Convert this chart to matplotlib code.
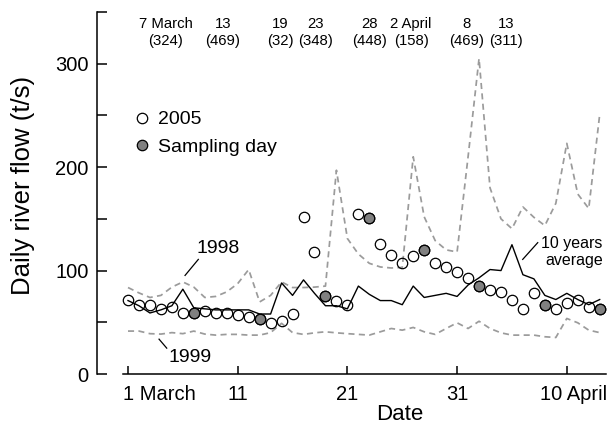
import matplotlib
matplotlib.use("Agg")
import matplotlib.pyplot as plt
from matplotlib.transforms import ScaledTranslation

plt.rcParams['font.family'] = ['Liberation Sans', 'DejaVu Sans']

# ---- data -------------------------------------------------------------
days = list(range(1, 45))  # 1 = 1 March ... 44 = 13 April

flow_2005 = [72, 67, 66.5, 63, 65, 59, 59, 61, 59, 59,
             57.5, 55, 53, 49.5, 51.5, 58, 152, 118, 75.5, 71,
             67, 155, 151, 126, 115, 107, 114, 120, 107, 103,
             98.5, 93, 85, 81, 79.5, 72, 62.5, 78, 67, 62.5,
             69, 72, 65, 62.5]

sampling_days = [7, 13, 19, 23, 28, 33, 39, 44]

avg_10y = [71, 66, 59, 62, 66, 82, 64, 63, 62, 62,
           62, 62, 58, 58, 88, 76, 91, 78, 66, 66,
           63, 85, 77, 71, 71, 67, 85, 74, 76, 78,
           75, 86, 93, 101, 100, 125, 96, 92, 76, 72,
           78, 72, 67, 72]

flow_1998 = [83.6, 78.4, 74, 76, 84, 89, 84, 74, 75, 79.4,
             87.4, 101, 69.7, 76, 89, 83.6, 83.6, 84, 85, 197,
             131, 116, 107, 103.5, 102.5, 103, 210, 152, 129, 120,
             118, 210, 305, 180, 150, 140.5, 161.5, 151.5, 143.5, 165,
             223, 174, 160, 251]

flow_1999 = [41.5, 41.5, 39, 38.6, 40, 39, 41.5, 38.6, 37.6, 38.3,
             38.3, 37.6, 37.6, 40, 49, 40, 38.3, 39.8, 40.8, 39.8,
             39, 38.3, 37.6, 40.8, 44, 42.4, 45, 40.8, 38.3, 44,
             49.5, 44, 51, 44, 39.8, 37.6, 37.6, 37.6, 36, 35.3,
             53.7, 49.5, 42.4, 40]

xtick_days = [1, 11, 21, 31, 41]
xtick_labels = ["1 March", "11", "21", "31", "10 April"]
yticks_major = [0, 100, 200, 300]
yticks_minor = [50, 150, 250, 350]

sample_dates = ["7 March", "13", "19", "23", "28", "2 April", "8", "13"]
sample_counts = [324, 469, 32, 348, 448, 158, 469, 311]

# ---- layout -----------------------------------------------------------
label_x = [4.46, 9.66, 14.86, 18.1, 23.06, 26.80, 31.90, 35.46]

fig = plt.figure(figsize=(6.1, 4.26), dpi=100)
ax = fig.add_axes([97 / 610, 1 - 374 / 426, 509 / 610, 362 / 426])

dash_col = '#9b9b9b'
ax.plot(days, flow_1998, color=dash_col, lw=1.25, ls=(0, (3.5, 2.5)), zorder=2)
ax.plot(days, flow_1999, color=dash_col, lw=1.25, ls=(0, (3.5, 2.5)), zorder=2)
ax.plot(days, avg_10y, color='black', lw=1.0, zorder=3)

ax.plot(days, flow_2005, ls='none', marker='o', ms=7.5, mfc='none',
        mec='black', mew=0.9, zorder=4, label='2005')
samp_vals = [flow_2005[days.index(d)] for d in sampling_days]
ax.plot(sampling_days, samp_vals, ls='none', marker='o', ms=7.5,
        mfc='#808080', mec='black', mew=0.9, zorder=5, label='Sampling day')

ax.set_xlim(1 - 31 / 10.97, 1 + (606 - 128) / 10.97)
ax.set_ylim(0, 350)

for s in ['top', 'right']:
    ax.spines[s].set_visible(False)
ax.spines['left'].set_bounds(0, 350)
ax.spines['bottom'].set_bounds(0.5, 1 + (606 - 128) / 10.97)
for s in ['left', 'bottom']:
    ax.spines[s].set_linewidth(1.1)

ax.set_yticks(yticks_major)
ax.set_yticks(yticks_minor, minor=True)
ax.set_xticks(xtick_days, xtick_labels)
ax.tick_params(axis='y', which='both', direction='in', length=7, width=1.1,
               labelsize=14.5, pad=6)
ax.tick_params(axis='x', which='both', direction='in', length=6, width=1.1,
               labelsize=14.5, pad=8)

xl = ax.get_xticklabels()
xl[0].set_ha('left')
xl[0].set_transform(xl[0].get_transform() + ScaledTranslation(-0.053, 0, fig.dpi_scale_trans))
xl[-1].set_transform(xl[-1].get_transform() + ScaledTranslation(0.063, 0, fig.dpi_scale_trans))

ax.set_ylabel('Daily river flow (t/s)', fontsize=18.5)
ax.yaxis.set_label_coords(-0.122, 0.52)
fig.text(400 / 610, 1 / 426, 'Date', fontsize=16, ha='center', va='bottom')

# legend
ax.legend(loc='upper left', bbox_to_anchor=(0.075, 0.727), frameon=False,
          fontsize=14, handlelength=0.7, handletextpad=0.45,
          labelspacing=0.5, borderpad=0, borderaxespad=0)

# top sampling labels
for x, d, c in zip(label_x, sample_dates, sample_counts):
    ax.text(x, 330, f"{d}\n({c})", ha='center', va='center', fontsize=10.7,
            linespacing=1.3)

# series annotations
ax.text(9.2, 121.5, '1998', fontsize=14, ha='center', va='center')
ax.plot([7.41, 6.2], [110.8, 95.3], color='black', lw=0.9)
ax.text(6.65, 16, '1999', fontsize=14, ha='center', va='center')
ax.plot([3.83, 4.53], [33.7, 25.0], color='black', lw=0.9)
ax.text(44.27, 118, '10 years\naverage', fontsize=11.5, ha='right',
        va='center', multialignment='right', linespacing=1.15)
ax.plot([38.35, 36.98], [127, 110.8], color='black', lw=0.9)

fig.savefig('out.png', dpi=100)
